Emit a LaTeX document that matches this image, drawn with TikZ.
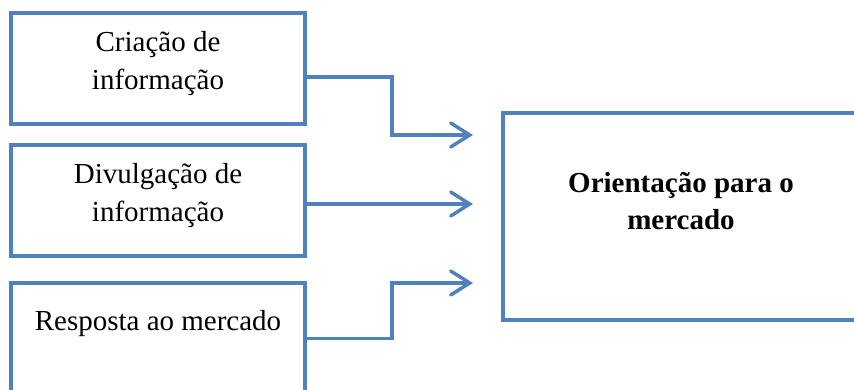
\documentclass[tikz,border=0pt]{standalone}
\usepackage{fontspec}
\setmainfont{Liberation Serif}
\usetikzlibrary{arrows.meta}
\definecolor{boxblue}{HTML}{4F81BD}
\tikzset{
  boxnode/.style={draw=boxblue, line width=3.5pt, inner sep=0pt, fill=none},
  txt/.style={inner sep=0pt, align=center, font=\fontsize{29}{38}\selectfont},
  conn/.style={draw=boxblue, line width=3.5pt, -{Straight Barb[length=19pt,width=24pt,line cap=round]}}
}
\begin{document}
\begin{tikzpicture}[x=1pt,y=-1pt]
\path[use as bounding box, clip] (0,0) rectangle (854,389);
\node[boxnode, minimum width=294pt, minimum height=111pt] (b1) at (158,68.5) {};
\node[boxnode, minimum width=294pt, minimum height=111pt] (b2) at (158,200.5) {};
\node[boxnode, minimum width=294pt, minimum height=111pt] (b3) at (158,338.5) {};
\node[boxnode, minimum width=356pt, minimum height=207pt] (r) at (681,216.5) {};
\node[txt] (t1txt) at (158,64) {Criação de\\informação};
\node[txt] (t2txt) at (158,195.5) {Divulgação de\\informação};
\node[txt, anchor=base] (t3txt) at (158,330) {Resposta ao mercado};
\node[txt, font=\fontsize{29}{37}\selectfont\bfseries] (rtxt) at (681,201) {Orientação para o\\mercado};
\coordinate (a1) at (473,135);
\coordinate (a2) at (473,204);
\coordinate (a3) at (473,283);
\draw[conn] ([yshift=-8.5pt]b1.east) -- ++(85,0) |- (a1);
\draw[conn] ([yshift=-3.5pt]b2.east) -- (a2);
\draw[conn] (b3.east) -- ++(85,0) |- (a3);
\end{tikzpicture}
\end{document}
